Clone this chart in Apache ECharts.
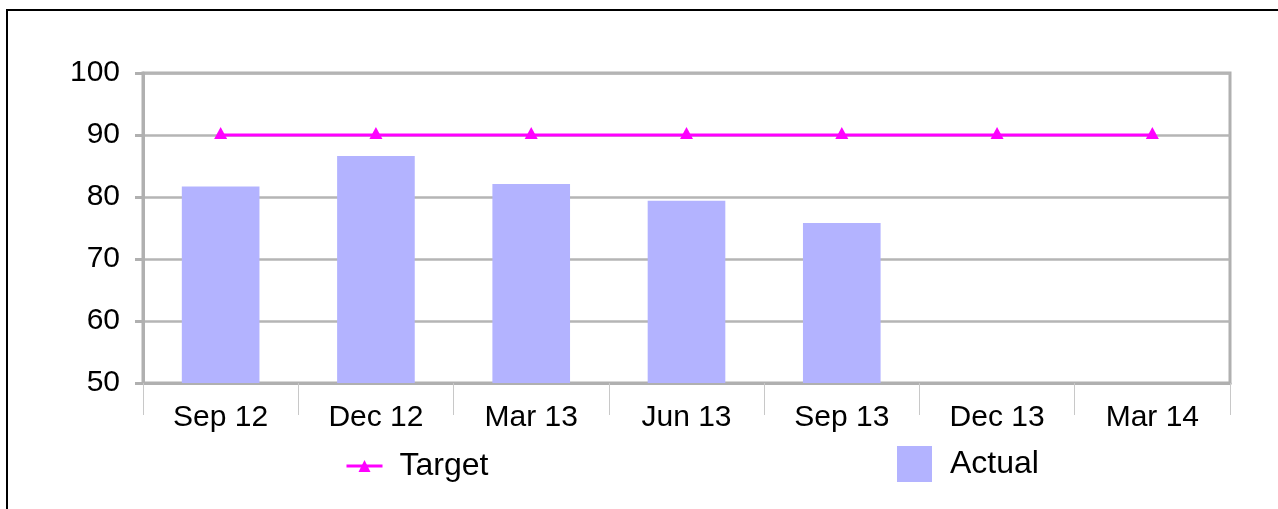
<!DOCTYPE html>
<html>
<head>
<meta charset="utf-8">
<script src="https://cdn.jsdelivr.net/npm/echarts@6/dist/echarts.min.js"></script>
<style>
html,body{margin:0;padding:0;background:#fff;}
#chart{width:1278px;height:509px;}
</style>
</head>
<body>
<div id="chart"></div>
<script>
var categories = ['Sep 12', 'Dec 12', 'Mar 13', 'Jun 13', 'Sep 13', 'Dec 13', 'Mar 14'];
var actualValues = [81.7, 86.6, 82.1, 79.4, 75.8, null, null];
var targetValues = [90, 90, 90, 90, 90, 90, 90];
var yTicks = [50, 60, 70, 80, 90, 100];

var chart = echarts.init(document.getElementById('chart'), null, {renderer: 'canvas'});
var font = 'Liberation Sans, Arial, sans-serif';
chart.setOption({
  animation: false,
  backgroundColor: '#ffffff',
  textStyle: {fontFamily: font},
  graphic: [{
    type: 'rect',
    shape: {x: 7, y: 10, width: 3000, height: 3000},
    style: {fill: 'none', stroke: '#000', lineWidth: 2},
    silent: true
  }],
  grid: {
    left: 143, right: 48, top: 73, bottom: 126,
    show: true, borderColor: '#b0b0b0', borderWidth: 3
  },
  legend: [{
    data: ['Target'],
    left: 345, top: 450, padding: 0,
    itemWidth: 36, itemHeight: 15, itemGap: 19,
    lineStyle: {width: 3},
    textStyle: {fontSize: 32, color: '#000', fontFamily: font, padding: [6, 0, 0, 12]}
  }, {
    data: [{name: 'Actual', icon: 'rect'}],
    left: 897, top: 446, padding: 0,
    itemWidth: 35, itemHeight: 36, itemGap: 18,
    textStyle: {fontSize: 32, color: '#000', fontFamily: font, padding: [12, 0, 0, 13]}
  }],
  xAxis: {
    type: 'category',
    data: categories,
    boundaryGap: true,
    axisLine: {show: true, lineStyle: {color: '#b0b0b0', width: 3}},
    axisTick: {show: true, length: 32, lineStyle: {color: '#c8c8c8', width: 1}},
    axisLabel: {fontSize: 30, color: '#000', margin: 20, fontFamily: font}
  },
  yAxis: {
    type: 'value',
    min: yTicks[0], max: yTicks[yTicks.length - 1], interval: 10,
    axisLine: {show: true, lineStyle: {color: '#b0b0b0', width: 3}},
    axisTick: {show: true, length: 8, lineStyle: {color: '#b0b0b0', width: 3}},
    axisLabel: {fontSize: 30, color: '#000', margin: 23, fontFamily: font},
    splitLine: {show: true, lineStyle: {color: '#b5b5b5', width: 2.5}}
  },
  series: [{
    name: 'Actual',
    type: 'bar',
    data: actualValues,
    barWidth: '50%',
    itemStyle: {color: '#b3b3ff'},
    z: 2
  }, {
    name: 'Target',
    type: 'line',
    data: targetValues,
    symbol: 'triangle',
    symbolSize: [13, 12],
    symbolOffset: [0, -2],
    lineStyle: {color: '#ff00ff', width: 3},
    itemStyle: {color: '#ff00ff'},
    z: 3
  }]
});
</script>
</body>
</html>
